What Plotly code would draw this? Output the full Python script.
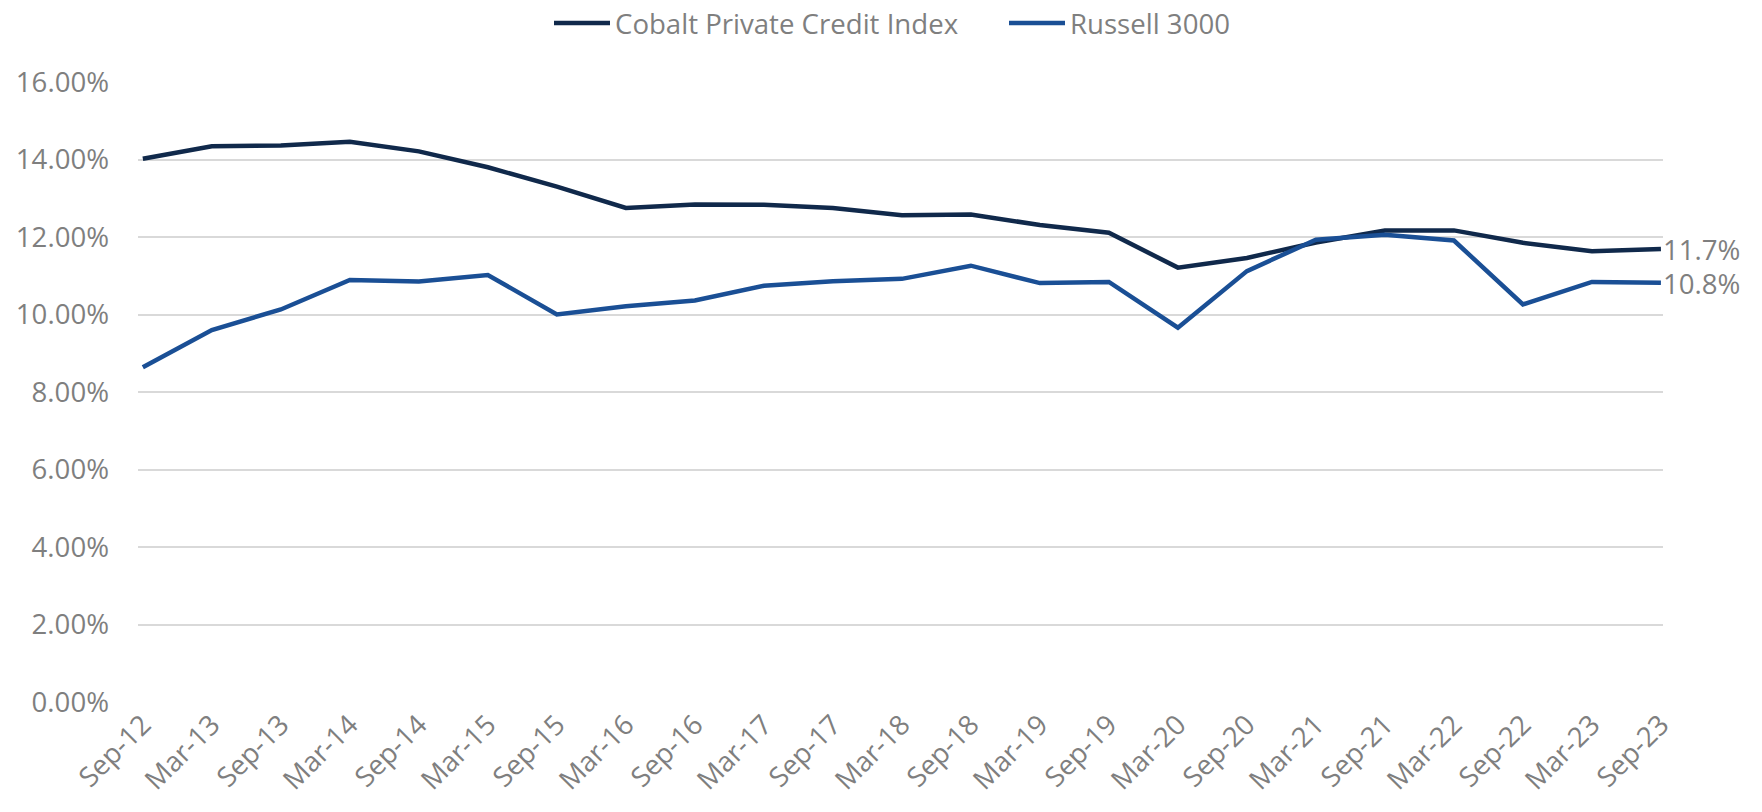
import plotly.graph_objects as go

periods = ["Sep-12", "Mar-13", "Sep-13", "Mar-14", "Sep-14", "Mar-15", "Sep-15", "Mar-16",
           "Sep-16", "Mar-17", "Sep-17", "Mar-18", "Sep-18", "Mar-19", "Sep-19", "Mar-20",
           "Sep-20", "Mar-21", "Sep-21", "Mar-22", "Sep-22", "Mar-23", "Sep-23"]

cobalt = [14.02, 14.34, 14.36, 14.46, 14.21, 13.80, 13.30, 12.75, 12.84, 12.83, 12.75, 12.56,
          12.58, 12.31, 12.11, 11.21, 11.46, 11.86, 12.17, 12.17, 11.85, 11.63, 11.69]
russell = [8.64, 9.60, 10.13, 10.89, 10.85, 11.02, 10.00, 10.21, 10.36, 10.74, 10.86, 10.92,
           11.26, 10.81, 10.84, 9.66, 11.12, 11.93, 12.06, 11.91, 10.26, 10.84, 10.82]

names = ["Cobalt Private Credit Index", "Russell 3000"]
colors = ["#10294B", "#1A4F95"]
series = [cobalt, russell]

FONT = "Open Sans"
GRAY = "#7F7F7F"
FS = 27.6

# the page body has an 8px margin, so the figure is sized to fit inside the window
W, H = 1746, 796

fig = go.Figure()
for name, vals, col in zip(names, series, colors):
    fig.add_trace(go.Scatter(x=periods, y=vals, name=name, mode="lines",
                             line=dict(color=col, width=4.5)))
    fig.add_annotation(x=periods[-1], y=vals[-1], text=f"{vals[-1]:.1f}%",
                       showarrow=False, xanchor="left", yanchor="middle", xshift=1,
                       height=32, borderpad=0,
                       font=dict(family=FONT, size=FS, color=GRAY))

fig.update_layout(
    width=W, height=H,
    margin=dict(l=130, r=91, t=74, b=102),
    paper_bgcolor="white", plot_bgcolor="white",
    font=dict(family=FONT, size=FS, color=GRAY),
    legend=dict(orientation="h", xref="container", yref="container",
                x=541 / W, xanchor="left", y=1 - 15 / H, yanchor="middle",
                font=dict(family=FONT, size=FS, color=GRAY), itemwidth=56,
                entrywidth=384, entrywidthmode="pixels",
                bgcolor="rgba(0,0,0,0)"),
    xaxis=dict(type="category", range=[-0.07, len(periods) - 1 + 0.03], automargin=False,
               showgrid=False, zeroline=False, showline=False, ticks="",
               tickangle=-45, tickfont=dict(family=FONT, size=FS, color=GRAY)),
    yaxis=dict(range=[0, 16], dtick=2, tickformat=".2f", ticksuffix="%", automargin=False,
               showgrid=True, gridcolor="#D9D9D9", gridwidth=2, zeroline=False,
               showline=False, ticks="", ticklabelstandoff=28,
               tickfont=dict(family=FONT, size=FS, color=GRAY)),
)

fig.write_html("out.html")
